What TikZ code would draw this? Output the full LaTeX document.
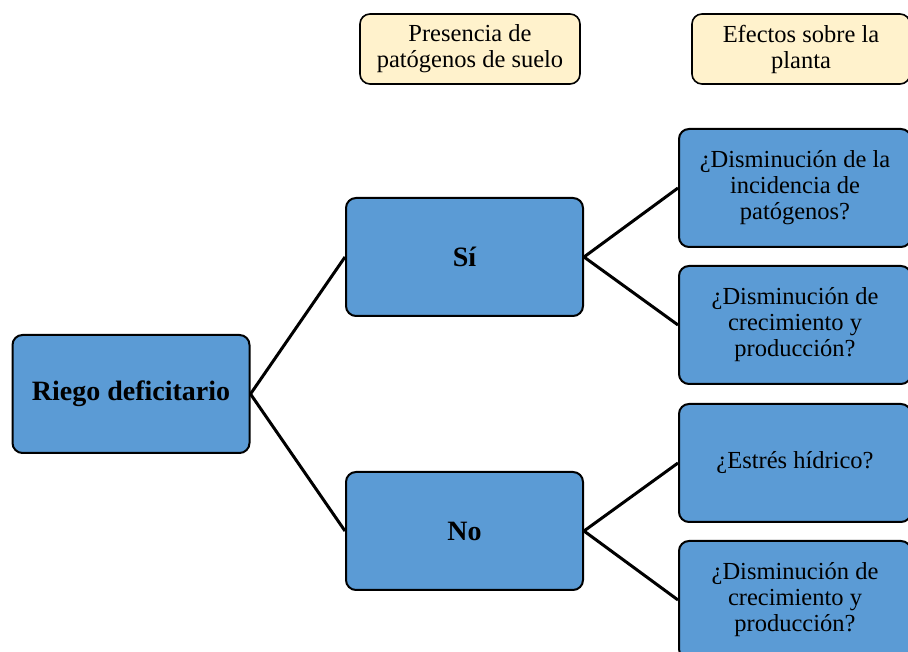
\documentclass[tikz,border=0pt]{standalone}
\usepackage{fontspec}
\setmainfont{Liberation Serif}
\usepackage{tikz}

\definecolor{boxblue}{HTML}{5B9BD5}
\definecolor{boxcream}{HTML}{FFF2CC}

\begin{document}
\begin{tikzpicture}[x=1pt,y=1pt,line width=2pt,
  main node/.style={rectangle,rounded corners=10pt,draw,fill=boxblue,minimum width=237pt,minimum height=118pt,align=center,font=\fontsize{28}{30}\selectfont\bfseries},
  end node/.style={rectangle,rounded corners=10pt,draw,fill=boxblue,minimum width=232pt,minimum height=118pt,align=center,font=\fontsize{24.5}{26}\selectfont},
  head node/.style={rectangle,rounded corners=10pt,draw,line width=1.6pt,fill=boxcream,minimum width=220pt,minimum height=70pt,align=center,font=\fontsize{24.5}{26}\selectfont}]

  \useasboundingbox (0,0) rectangle (908,652);

  \node[head node] (hpat) at (470,603) {Presencia de\\pat\'ogenos de suelo};
  \node[head node,minimum width=218pt] (hefe) at (801,603) {Efectos sobre la\\planta};

  \node[main node] (riego) at (131,258) {Riego deficitario};
  \node[main node] (si) at (464.5,395) {S\'i};
  \node[main node] (no) at (464.5,121) {No};

  \node[end node] (inc) at (795,464) {¿Disminución de la\\incidencia de\\patógenos?};
  \node[end node] (cre1) at (795,327) {¿Disminución de\\crecimiento y\\producción?};
  \node[end node] (est) at (795,189) {¿Estrés hídrico?};
  \node[end node] (cre2) at (795,52) {¿Disminución de\\crecimiento y\\producción?};

  \path[every edge/.style={draw,line width=3pt}]
    (riego.east) edge (si.west)
    (riego.east) edge (no.west)
    (si.east) edge (inc.west)
    (si.east) edge (cre1.west)
    (no.east) edge (est.west)
    (no.east) edge (cre2.west);
\end{tikzpicture}
\end{document}
